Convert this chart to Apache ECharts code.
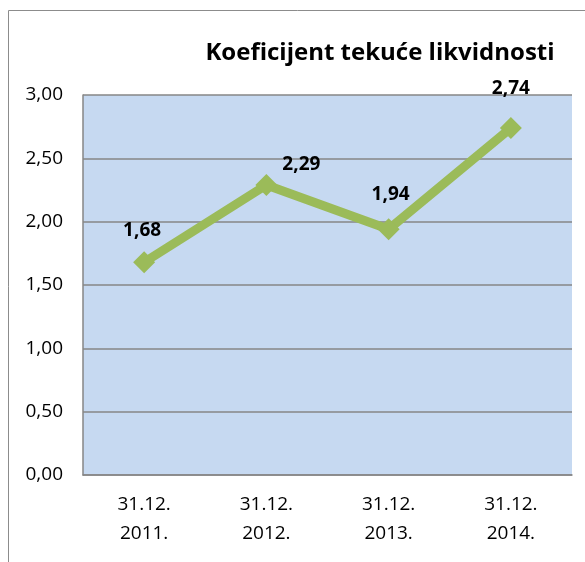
<!DOCTYPE html>
<html>
<head>
<meta charset="utf-8">
<script src="https://cdn.jsdelivr.net/npm/echarts@6/dist/echarts.min.js"></script>
<style>
  html, body { margin: 0; padding: 0; background: #fff; }
  #chart { width: 585px; height: 562px; }
</style>
</head>
<body>
<div id="chart"></div>
<script>
var categories = ['31.12.\n2011.', '31.12.\n2012.', '31.12.\n2013.', '31.12.\n2014.'];
var values = [1.68, 2.29, 1.94, 2.74];
var yTicks = { min: 0, max: 3, interval: 0.5 };
// where each value label sits relative to its point (as in the original)
var labelOffsets = [[-2, -6], [35, 5], [2, -9], [0, -14]];

var chart = echarts.init(document.getElementById('chart'));

var seriesData = values.map(function (v, i) {
    return {
        value: v,
        label: { offset: labelOffsets[i] }
    };
});

var option = {
    animation: false,
    textStyle: { fontFamily: 'Open Sans' },
    title: {
        text: 'Koeficijent tekuće likvidnosti',
        left: 375,
        top: 36,
        textAlign: 'center',
        textStyle: { fontSize: 24, fontWeight: 'bold', color: '#000', fontFamily: 'Open Sans' }
    },
    graphic: [{
        type: 'rect',
        shape: { x: 8.5, y: 10.5, width: 600, height: 600 },
        style: { fill: 'none', stroke: '#8c8c8c', lineWidth: 1 },
        silent: true,
        z: -1
    }],
    grid: {
        left: 83,
        right: 13,
        top: 95,
        bottom: 87,
        show: true,
        backgroundColor: '#C6D9F1',
        borderWidth: 0
    },
    xAxis: {
        type: 'category',
        data: categories,
        boundaryGap: true,
        axisLine: { lineStyle: { color: '#868686', width: 1.5 } },
        axisTick: { show: false },
        axisLabel: { color: '#000', fontSize: 19, lineHeight: 29, margin: 15 }
    },
    yAxis: {
        type: 'value',
        min: yTicks.min,
        max: yTicks.max,
        interval: yTicks.interval,
        axisLine: { show: true, lineStyle: { color: '#868686', width: 1.5 } },
        axisTick: { show: false },
        splitLine: { lineStyle: { color: '#868686', width: 1.5 } },
        axisLabel: {
            color: '#000',
            fontSize: 19,
            margin: 20,
            formatter: function (v) { return v.toFixed(2).replace('.', ','); }
        }
    },
    series: [{
        type: 'line',
        data: seriesData,
        color: '#9BBB59',
        lineStyle: { width: 9, color: '#9BBB59' },
        symbol: 'diamond',
        symbolSize: 22,
        itemStyle: { color: '#9BBB59' },
        label: {
            show: true,
            position: 'top',
            color: '#000',
            fontSize: 19,
            fontWeight: 'bold',
            formatter: function (p) { return p.value.toFixed(2).replace('.', ','); }
        }
    }]
};

chart.setOption(option);
</script>
</body>
</html>
